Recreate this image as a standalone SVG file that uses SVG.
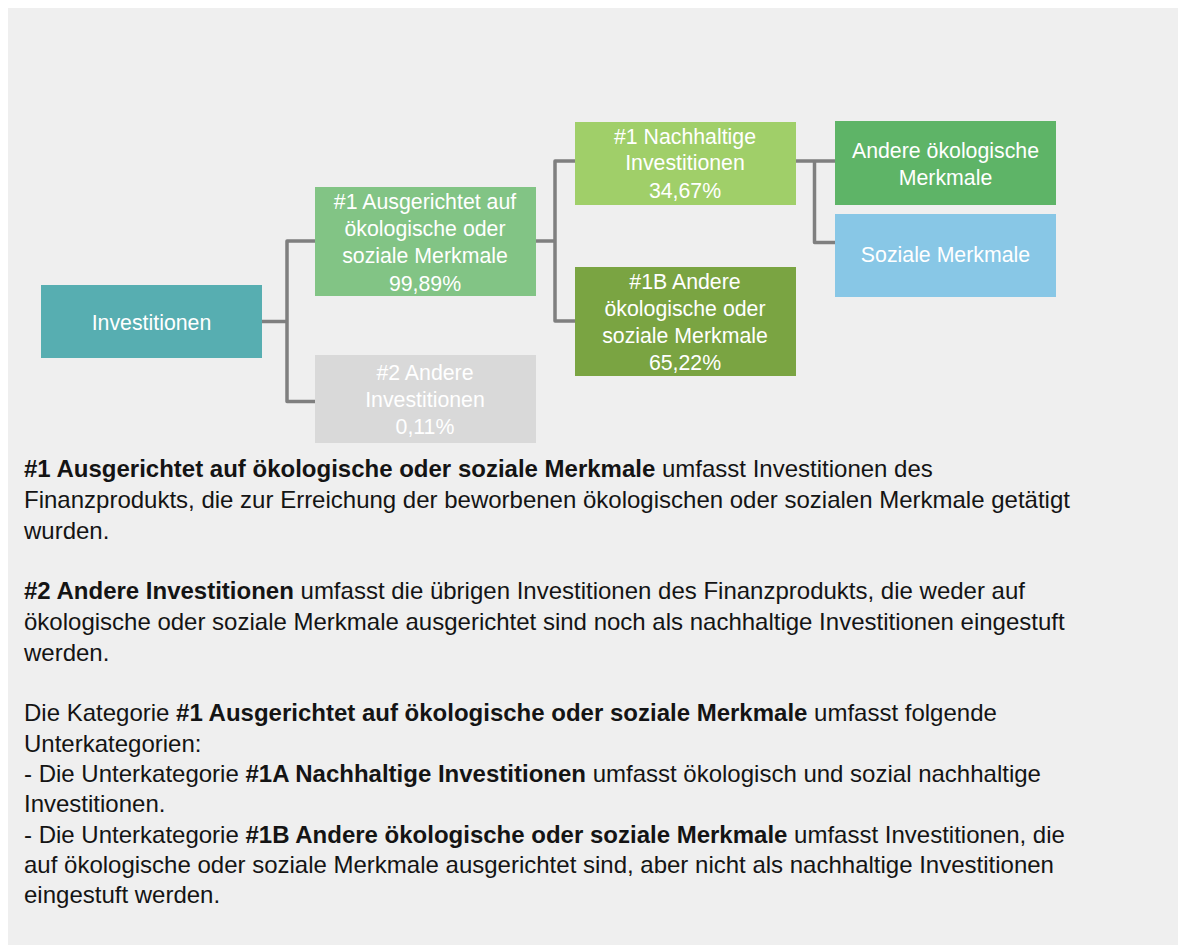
<svg xmlns="http://www.w3.org/2000/svg" width="1184" height="945" viewBox="0 0 1184 945">
<style>
.nt{font-family:"Liberation Sans",Arial,sans-serif;font-size:21.3px;fill:#ffffff;text-anchor:middle}
.bt{font-family:"Liberation Sans",Arial,sans-serif;font-size:24px;fill:#141414}
.b{font-weight:bold}
.con{fill:none;stroke:#7f7f7f;stroke-width:3.5;stroke-linecap:round;stroke-linejoin:round}
</style>
<rect x="0" y="0" width="1184" height="945" fill="#ffffff"/>
<rect x="8" y="8" width="1170" height="937" fill="#efefef"/>
<g id="connectors">
<path class="con" d="M262 321.5H287M287 241V401.5M287 241H315M287 401.5H315"/>
<path class="con" d="M536 241H555M555 161V321M555 161H575M555 321H575"/>
<path class="con" d="M796 161H835M814.5 161V242.5H835"/>
</g>
<g id="investitionen">
<rect x="41" y="285" width="221" height="73" fill="#57aeb1"/>
<text class="nt" x="151.5" y="329.5">Investitionen</text>
</g>
<g id="ausgerichtet">
<rect x="315" y="187" width="221" height="109" fill="#82c485"/>
<text class="nt" x="425" y="208.7">#1 Ausgerichtet auf</text>
<text class="nt" x="425" y="236">ökologische oder</text>
<text class="nt" x="425" y="263.3">soziale Merkmale</text>
<text class="nt" x="425" y="290.6">99,89%</text>
</g>
<g id="andere-investitionen">
<rect x="315" y="355" width="221" height="88" fill="#d9d9d9"/>
<text class="nt" x="425" y="380">#2 Andere</text>
<text class="nt" x="425" y="407">Investitionen</text>
<text class="nt" x="425" y="434">0,11%</text>
</g>
<g id="nachhaltige">
<rect x="575" y="122" width="221" height="83" fill="#a0cf69"/>
<text class="nt" x="685" y="143.7">#1 Nachhaltige</text>
<text class="nt" x="685" y="170.4">Investitionen</text>
<text class="nt" x="685" y="197.7">34,67%</text>
</g>
<g id="andere-merkmale-1b">
<rect x="575" y="267" width="221" height="109" fill="#7aa442"/>
<text class="nt" x="685" y="288.7">#1B Andere</text>
<text class="nt" x="685" y="316">ökologische oder</text>
<text class="nt" x="685" y="343">soziale Merkmale</text>
<text class="nt" x="685" y="370">65,22%</text>
</g>
<g id="andere-oekologische">
<rect x="835" y="121" width="221" height="84" fill="#5eb467"/>
<text class="nt" x="945.5" y="157.7">Andere ökologische</text>
<text class="nt" x="945.5" y="184.7">Merkmale</text>
</g>
<g id="soziale">
<rect x="835" y="214" width="221" height="83" fill="#88c7e6"/>
<text class="nt" x="945.5" y="262.4">Soziale Merkmale</text>
</g>
<g id="description">
<text class="bt" x="24" y="477"><tspan class="b">#1 Ausgerichtet auf ökologische oder soziale Merkmale</tspan> umfasst Investitionen des</text>
<text class="bt" x="24" y="508">Finanzprodukts, die zur Erreichung der beworbenen ökologischen oder sozialen Merkmale getätigt</text>
<text class="bt" x="24" y="539">wurden.</text>
<text class="bt" x="24" y="599"><tspan class="b">#2 Andere Investitionen</tspan> umfasst die übrigen Investitionen des Finanzprodukts, die weder auf</text>
<text class="bt" x="24" y="630">ökologische oder soziale Merkmale ausgerichtet sind noch als nachhaltige Investitionen eingestuft</text>
<text class="bt" x="24" y="661">werden.</text>
<text class="bt" x="24" y="721">Die Kategorie <tspan class="b">#1 Ausgerichtet auf ökologische oder soziale Merkmale</tspan> umfasst folgende</text>
<text class="bt" x="24" y="751.5">Unterkategorien:</text>
<text class="bt" x="24" y="782">- Die Unterkategorie <tspan class="b">#1A Nachhaltige Investitionen</tspan> umfasst ökologisch und sozial nachhaltige</text>
<text class="bt" x="24" y="812">Investitionen.</text>
<text class="bt" x="24" y="842.5">- Die Unterkategorie <tspan class="b">#1B Andere ökologische oder soziale Merkmale</tspan> umfasst Investitionen, die</text>
<text class="bt" x="24" y="873">auf ökologische oder soziale Merkmale ausgerichtet sind, aber nicht als nachhaltige Investitionen</text>
<text class="bt" x="24" y="902.5">eingestuft werden.</text>
</g>
</svg>
